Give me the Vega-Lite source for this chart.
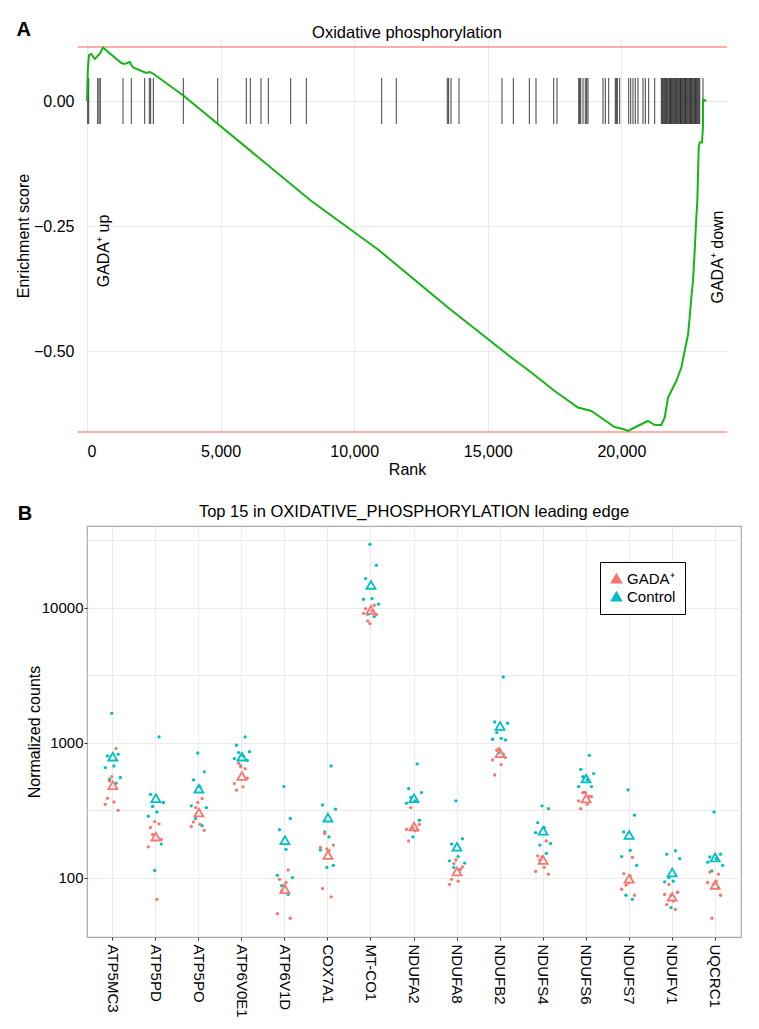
{
  "$schema": "https://vega.github.io/schema/vega-lite/v6.json",
  "background": "white",
  "padding": {"left": 15, "top": 19, "right": 5, "bottom": 5},
  "config": {
    "font": "Liberation Sans",
    "view": {"stroke": null},
    "axis": {"labelColor": "#000", "titleColor": "#000", "titleFontWeight": "normal", "gridColor": "#ebebeb", "labelFontSize": 16, "titleFontSize": 16},
    "title": {"fontWeight": "normal", "fontSize": 16.5, "color": "#000"}
  },
  "datasets": {
    "curve": [
      {"i":1,"rank":0,"es":0},{"i":2,"rank":30,"es":0.062},{"i":3,"rank":75,"es":0.092},{"i":4,"rank":161,"es":0.094},{"i":5,"rank":288,"es":0.084},{"i":6,"rank":412,"es":0.091},{"i":7,"rank":475,"es":0.094},{"i":8,"rank":599,"es":0.107},{"i":9,"rank":1284,"es":0.076},{"i":10,"rank":1411,"es":0.074},{"i":11,"rank":1598,"es":0.078},{"i":12,"rank":1722,"es":0.067},{"i":13,"rank":2219,"es":0.056},{"i":14,"rank":2347,"es":0.058},{"i":15,"rank":2470,"es":0.055},{"i":16,"rank":3604,"es":0.011},{"i":17,"rank":8395,"es":-0.2},{"i":18,"rank":10891,"es":-0.297},{"i":19,"rank":13510,"es":-0.413},{"i":20,"rank":15880,"es":-0.513},{"i":21,"rank":16629,"es":-0.543},{"i":22,"rank":17503,"es":-0.58},{"i":23,"rank":18376,"es":-0.613},{"i":24,"rank":18874,"es":-0.62},{"i":25,"rank":19499,"es":-0.643},{"i":26,"rank":19748,"es":-0.652},{"i":27,"rank":20123,"es":-0.657},{"i":28,"rank":20247,"es":-0.66},{"i":29,"rank":20497,"es":-0.653},{"i":30,"rank":20871,"es":-0.643},{"i":31,"rank":20995,"es":-0.64},{"i":32,"rank":21246,"es":-0.648},{"i":33,"rank":21494,"es":-0.648},{"i":34,"rank":21621,"es":-0.633},{"i":35,"rank":21744,"es":-0.593},{"i":36,"rank":21867,"es":-0.58},{"i":37,"rank":22055,"es":-0.56},{"i":38,"rank":22242,"es":-0.533},{"i":39,"rank":22368,"es":-0.5},{"i":40,"rank":22493,"es":-0.467},{"i":41,"rank":22555,"es":-0.433},{"i":42,"rank":22617,"es":-0.393},{"i":43,"rank":22680,"es":-0.36},{"i":44,"rank":22742,"es":-0.3},{"i":45,"rank":22804,"es":-0.233},{"i":46,"rank":22842,"es":-0.2},{"i":47,"rank":22893,"es":-0.093},{"i":48,"rank":22929,"es":-0.083},{"i":49,"rank":23016,"es":-0.083},{"i":50,"rank":23054,"es":-0.05},{"i":51,"rank":23054,"es":0.003},{"i":52,"rank":23177,"es":0}
    ],
    "hits": [
      {"rank":26},{"rank":64},{"rank":400},{"rank":449},{"rank":498},{"rank":1347},{"rank":1658},{"rank":2159},{"rank":2332},{"rank":2383},{"rank":2482},{"rank":3605},{"rank":4891},{"rank":5962},{"rank":6112},{"rank":6512},{"rank":6786},{"rank":7623},{"rank":8208},{"rank":11029},{"rank":11575},{"rank":13484},{"rank":13534},{"rank":13623},{"rank":13922},{"rank":15531},{"rank":15955},{"rank":16555},{"rank":16804},{"rank":17466},{"rank":17590},{"rank":18402},{"rank":18440},{"rank":18477},{"rank":18563},{"rank":18649},{"rank":18700},{"rank":18750},{"rank":19311},{"rank":19397},{"rank":19525},{"rank":19772},{"rank":19810},{"rank":19847},{"rank":19936},{"rank":20273},{"rank":20348},{"rank":20434},{"rank":20520},{"rank":20621},{"rank":20808},{"rank":20894},{"rank":21021},{"rank":21246},{"rank":21494},{"rank":21530},{"rank":21557},{"rank":21590},{"rank":21621},{"rank":21660},{"rank":21681},{"rank":21712},{"rank":21744},{"rank":21780},{"rank":21808},{"rank":21840},{"rank":21868},{"rank":21900},{"rank":21931},{"rank":21962},{"rank":21995},{"rank":22030},{"rank":22055},{"rank":22088},{"rank":22118},{"rank":22150},{"rank":22182},{"rank":22212},{"rank":22242},{"rank":22275},{"rank":22305},{"rank":22338},{"rank":22369},{"rank":22400},{"rank":22429},{"rank":22462},{"rank":22493},{"rank":22525},{"rank":22557},{"rank":22588},{"rank":22617},{"rank":22650},{"rank":22680},{"rank":22712},{"rank":22744},{"rank":22775},{"rank":22804},{"rank":22836},{"rank":22867},{"rank":22900},{"rank":22931},{"rank":23054}
    ],
    "means": [
      {"g":"ATP5MC3","grp":"Control","v":787},{"g":"ATP5MC3","grp":"GADA⁺","v":483},
      {"g":"ATP5PD","grp":"Control","v":387},{"g":"ATP5PD","grp":"GADA⁺","v":201},
      {"g":"ATP5PO","grp":"Control","v":456},{"g":"ATP5PO","grp":"GADA⁺","v":303},
      {"g":"ATP6V0E1","grp":"Control","v":787},{"g":"ATP6V0E1","grp":"GADA⁺","v":566},
      {"g":"ATP6V1D","grp":"Control","v":189},{"g":"ATP6V1D","grp":"GADA⁺","v":82},
      {"g":"COX7A1","grp":"Control","v":278},{"g":"COX7A1","grp":"GADA⁺","v":147},
      {"g":"MT-CO1","grp":"Control","v":14730},{"g":"MT-CO1","grp":"GADA⁺","v":9610},
      {"g":"NDUFA2","grp":"Control","v":387},{"g":"NDUFA2","grp":"GADA⁺","v":239},
      {"g":"NDUFA8","grp":"Control","v":169},{"g":"NDUFA8","grp":"GADA⁺","v":111},
      {"g":"NDUFB2","grp":"Control","v":1327},{"g":"NDUFB2","grp":"GADA⁺","v":834},
      {"g":"NDUFS4","grp":"Control","v":222},{"g":"NDUFS4","grp":"GADA⁺","v":135},
      {"g":"NDUFS6","grp":"Control","v":541},{"g":"NDUFS6","grp":"GADA⁺","v":385},
      {"g":"NDUFS7","grp":"Control","v":207},{"g":"NDUFS7","grp":"GADA⁺","v":98},
      {"g":"NDUFV1","grp":"Control","v":109},{"g":"NDUFV1","grp":"GADA⁺","v":72},
      {"g":"UQCRC1","grp":"Control","v":141},{"g":"UQCRC1","grp":"GADA⁺","v":88}
    ],
    "pts": [
      {"g":"ATP5MC3","grp":"Control","s":"4","v":1648},{"g":"ATP5MC3","grp":"Control","s":"7","v":820},{"g":"ATP5MC3","grp":"Control","s":"2","v":796},{"g":"ATP5MC3","grp":"Control","s":"5","v":671},{"g":"ATP5MC3","grp":"Control","s":"1","v":653},{"g":"ATP5MC3","grp":"Control","s":"8","v":551},{"g":"ATP5MC3","grp":"Control","s":"3","v":535},{"g":"ATP5MC3","grp":"Control","s":"6","v":500},
      {"g":"ATP5MC3","grp":"GADA⁺","s":"6","v":904},{"g":"ATP5MC3","grp":"GADA⁺","s":"2","v":387},{"g":"ATP5MC3","grp":"GADA⁺","s":"5","v":363},{"g":"ATP5MC3","grp":"GADA⁺","s":"1","v":349},{"g":"ATP5MC3","grp":"GADA⁺","s":"7","v":315},{"g":"ATP5MC3","grp":"GADA⁺","s":"3","v":520},{"g":"ATP5MC3","grp":"GADA⁺","s":"4","v":560},
      {"g":"ATP5PD","grp":"Control","s":"6","v":1102},{"g":"ATP5PD","grp":"Control","s":"2","v":414},{"g":"ATP5PD","grp":"Control","s":"8","v":360},{"g":"ATP5PD","grp":"Control","s":"3","v":336},{"g":"ATP5PD","grp":"Control","s":"5","v":306},{"g":"ATP5PD","grp":"Control","s":"1","v":285},{"g":"ATP5PD","grp":"Control","s":"7","v":177},{"g":"ATP5PD","grp":"Control","s":"4","v":113},
      {"g":"ATP5PD","grp":"GADA⁺","s":"3","v":209},{"g":"ATP5PD","grp":"GADA⁺","s":"7","v":192},{"g":"ATP5PD","grp":"GADA⁺","s":"1","v":169},{"g":"ATP5PD","grp":"GADA⁺","s":"5","v":69},{"g":"ATP5PD","grp":"GADA⁺","s":"2","v":235},{"g":"ATP5PD","grp":"GADA⁺","s":"6","v":250},{"g":"ATP5PD","grp":"GADA⁺","s":"4","v":260},
      {"g":"ATP5PO","grp":"Control","s":"4","v":837},{"g":"ATP5PO","grp":"Control","s":"7","v":607},{"g":"ATP5PO","grp":"Control","s":"2","v":529},{"g":"ATP5PO","grp":"Control","s":"5","v":472},{"g":"ATP5PO","grp":"Control","s":"1","v":340},{"g":"ATP5PO","grp":"Control","s":"8","v":330},{"g":"ATP5PO","grp":"Control","s":"3","v":274},{"g":"ATP5PO","grp":"Control","s":"6","v":242},
      {"g":"ATP5PO","grp":"GADA⁺","s":"6","v":385},{"g":"ATP5PO","grp":"GADA⁺","s":"2","v":258},{"g":"ATP5PO","grp":"GADA⁺","s":"5","v":248},{"g":"ATP5PO","grp":"GADA⁺","s":"1","v":239},{"g":"ATP5PO","grp":"GADA⁺","s":"7","v":224},{"g":"ATP5PO","grp":"GADA⁺","s":"3","v":330},{"g":"ATP5PO","grp":"GADA⁺","s":"4","v":360},
      {"g":"ATP6V0E1","grp":"Control","s":"6","v":1102},{"g":"ATP6V0E1","grp":"Control","s":"2","v":955},{"g":"ATP6V0E1","grp":"Control","s":"8","v":857},{"g":"ATP6V0E1","grp":"Control","s":"3","v":843},{"g":"ATP6V0E1","grp":"Control","s":"5","v":796},{"g":"ATP6V0E1","grp":"Control","s":"1","v":761},{"g":"ATP6V0E1","grp":"Control","s":"7","v":739},{"g":"ATP6V0E1","grp":"Control","s":"4","v":671},
      {"g":"ATP6V0E1","grp":"GADA⁺","s":"3","v":703},{"g":"ATP6V0E1","grp":"GADA⁺","s":"7","v":545},{"g":"ATP6V0E1","grp":"GADA⁺","s":"1","v":497},{"g":"ATP6V0E1","grp":"GADA⁺","s":"5","v":470},{"g":"ATP6V0E1","grp":"GADA⁺","s":"2","v":444},{"g":"ATP6V0E1","grp":"GADA⁺","s":"6","v":640},{"g":"ATP6V0E1","grp":"GADA⁺","s":"4","v":660},
      {"g":"ATP6V1D","grp":"Control","s":"4","v":472},{"g":"ATP6V1D","grp":"Control","s":"7","v":274},{"g":"ATP6V1D","grp":"Control","s":"2","v":226},{"g":"ATP6V1D","grp":"Control","s":"5","v":162},{"g":"ATP6V1D","grp":"Control","s":"1","v":104},{"g":"ATP6V1D","grp":"Control","s":"8","v":100},{"g":"ATP6V1D","grp":"Control","s":"3","v":87},{"g":"ATP6V1D","grp":"Control","s":"6","v":75},
      {"g":"ATP6V1D","grp":"GADA⁺","s":"6","v":114},{"g":"ATP6V1D","grp":"GADA⁺","s":"2","v":97},{"g":"ATP6V1D","grp":"GADA⁺","s":"5","v":92},{"g":"ATP6V1D","grp":"GADA⁺","s":"1","v":54},{"g":"ATP6V1D","grp":"GADA⁺","s":"7","v":50},{"g":"ATP6V1D","grp":"GADA⁺","s":"3","v":80},{"g":"ATP6V1D","grp":"GADA⁺","s":"4","v":87},
      {"g":"COX7A1","grp":"Control","s":"6","v":671},{"g":"COX7A1","grp":"Control","s":"2","v":345},{"g":"COX7A1","grp":"Control","s":"8","v":321},{"g":"COX7A1","grp":"Control","s":"3","v":218},{"g":"COX7A1","grp":"Control","s":"5","v":200},{"g":"COX7A1","grp":"Control","s":"1","v":160},{"g":"COX7A1","grp":"Control","s":"7","v":123},{"g":"COX7A1","grp":"Control","s":"4","v":119},
      {"g":"COX7A1","grp":"GADA⁺","s":"3","v":212},{"g":"COX7A1","grp":"GADA⁺","s":"7","v":174},{"g":"COX7A1","grp":"GADA⁺","s":"1","v":167},{"g":"COX7A1","grp":"GADA⁺","s":"5","v":158},{"g":"COX7A1","grp":"GADA⁺","s":"2","v":83},{"g":"COX7A1","grp":"GADA⁺","s":"6","v":72},{"g":"COX7A1","grp":"GADA⁺","s":"4","v":163},
      {"g":"MT-CO1","grp":"Control","s":"4","v":29400},{"g":"MT-CO1","grp":"Control","s":"7","v":20600},{"g":"MT-CO1","grp":"Control","s":"2","v":16400},{"g":"MT-CO1","grp":"Control","s":"5","v":11660},{"g":"MT-CO1","grp":"Control","s":"1","v":11530},{"g":"MT-CO1","grp":"Control","s":"8","v":10590},{"g":"MT-CO1","grp":"Control","s":"3","v":8930},{"g":"MT-CO1","grp":"Control","s":"6","v":8580},
      {"g":"MT-CO1","grp":"GADA⁺","s":"6","v":10400},{"g":"MT-CO1","grp":"GADA⁺","s":"2","v":9830},{"g":"MT-CO1","grp":"GADA⁺","s":"5","v":9450},{"g":"MT-CO1","grp":"GADA⁺","s":"1","v":9070},{"g":"MT-CO1","grp":"GADA⁺","s":"7","v":8900},{"g":"MT-CO1","grp":"GADA⁺","s":"3","v":7960},{"g":"MT-CO1","grp":"GADA⁺","s":"4","v":7610},
      {"g":"NDUFA2","grp":"Control","s":"6","v":695},{"g":"NDUFA2","grp":"Control","s":"2","v":456},{"g":"NDUFA2","grp":"Control","s":"8","v":426},{"g":"NDUFA2","grp":"Control","s":"3","v":392},{"g":"NDUFA2","grp":"Control","s":"5","v":370},{"g":"NDUFA2","grp":"Control","s":"1","v":356},{"g":"NDUFA2","grp":"Control","s":"7","v":266},{"g":"NDUFA2","grp":"Control","s":"4","v":200},
      {"g":"NDUFA2","grp":"GADA⁺","s":"3","v":330},{"g":"NDUFA2","grp":"GADA⁺","s":"7","v":248},{"g":"NDUFA2","grp":"GADA⁺","s":"1","v":228},{"g":"NDUFA2","grp":"GADA⁺","s":"5","v":222},{"g":"NDUFA2","grp":"GADA⁺","s":"2","v":187},{"g":"NDUFA2","grp":"GADA⁺","s":"6","v":225},{"g":"NDUFA2","grp":"GADA⁺","s":"4","v":233},
      {"g":"NDUFA8","grp":"Control","s":"4","v":370},{"g":"NDUFA8","grp":"Control","s":"7","v":194},{"g":"NDUFA8","grp":"Control","s":"2","v":177},{"g":"NDUFA8","grp":"Control","s":"5","v":143},{"g":"NDUFA8","grp":"Control","s":"1","v":133},{"g":"NDUFA8","grp":"Control","s":"8","v":128},{"g":"NDUFA8","grp":"Control","s":"3","v":119},{"g":"NDUFA8","grp":"Control","s":"6","v":115},
      {"g":"NDUFA8","grp":"GADA⁺","s":"6","v":115},{"g":"NDUFA8","grp":"GADA⁺","s":"2","v":97},{"g":"NDUFA8","grp":"GADA⁺","s":"5","v":94},{"g":"NDUFA8","grp":"GADA⁺","s":"1","v":89},{"g":"NDUFA8","grp":"GADA⁺","s":"7","v":120},{"g":"NDUFA8","grp":"GADA⁺","s":"3","v":127},{"g":"NDUFA8","grp":"GADA⁺","s":"4","v":135},
      {"g":"NDUFB2","grp":"Control","s":"6","v":3060},{"g":"NDUFB2","grp":"Control","s":"2","v":1421},{"g":"NDUFB2","grp":"Control","s":"8","v":1391},{"g":"NDUFB2","grp":"Control","s":"3","v":1186},{"g":"NDUFB2","grp":"Control","s":"5","v":1076},{"g":"NDUFB2","grp":"Control","s":"1","v":1059},{"g":"NDUFB2","grp":"Control","s":"7","v":1047},{"g":"NDUFB2","grp":"Control","s":"4","v":843},
      {"g":"NDUFB2","grp":"GADA⁺","s":"3","v":877},{"g":"NDUFB2","grp":"GADA⁺","s":"7","v":774},{"g":"NDUFB2","grp":"GADA⁺","s":"1","v":744},{"g":"NDUFB2","grp":"GADA⁺","s":"5","v":687},{"g":"NDUFB2","grp":"GADA⁺","s":"2","v":575},{"g":"NDUFB2","grp":"GADA⁺","s":"6","v":820},{"g":"NDUFB2","grp":"GADA⁺","s":"4","v":900},
      {"g":"NDUFS4","grp":"Control","s":"4","v":340},{"g":"NDUFS4","grp":"Control","s":"7","v":324},{"g":"NDUFS4","grp":"Control","s":"2","v":255},{"g":"NDUFS4","grp":"Control","s":"5","v":234},{"g":"NDUFS4","grp":"Control","s":"1","v":215},{"g":"NDUFS4","grp":"Control","s":"8","v":179},{"g":"NDUFS4","grp":"Control","s":"3","v":174},{"g":"NDUFS4","grp":"Control","s":"6","v":151},
      {"g":"NDUFS4","grp":"GADA⁺","s":"6","v":187},{"g":"NDUFS4","grp":"GADA⁺","s":"2","v":145},{"g":"NDUFS4","grp":"GADA⁺","s":"5","v":119},{"g":"NDUFS4","grp":"GADA⁺","s":"1","v":111},{"g":"NDUFS4","grp":"GADA⁺","s":"7","v":106},{"g":"NDUFS4","grp":"GADA⁺","s":"3","v":135},{"g":"NDUFS4","grp":"GADA⁺","s":"4","v":142},
      {"g":"NDUFS6","grp":"Control","s":"6","v":805},{"g":"NDUFS6","grp":"Control","s":"2","v":634},{"g":"NDUFS6","grp":"Control","s":"8","v":589},{"g":"NDUFS6","grp":"Control","s":"3","v":559},{"g":"NDUFS6","grp":"Control","s":"5","v":529},{"g":"NDUFS6","grp":"Control","s":"1","v":472},{"g":"NDUFS6","grp":"Control","s":"7","v":472},{"g":"NDUFS6","grp":"Control","s":"4","v":426},
      {"g":"NDUFS6","grp":"GADA⁺","s":"3","v":426},{"g":"NDUFS6","grp":"GADA⁺","s":"7","v":398},{"g":"NDUFS6","grp":"GADA⁺","s":"1","v":370},{"g":"NDUFS6","grp":"GADA⁺","s":"5","v":349},{"g":"NDUFS6","grp":"GADA⁺","s":"2","v":324},{"g":"NDUFS6","grp":"GADA⁺","s":"6","v":400},{"g":"NDUFS6","grp":"GADA⁺","s":"4","v":428},
      {"g":"NDUFS7","grp":"Control","s":"4","v":446},{"g":"NDUFS7","grp":"Control","s":"7","v":290},{"g":"NDUFS7","grp":"Control","s":"2","v":218},{"g":"NDUFS7","grp":"Control","s":"5","v":159},{"g":"NDUFS7","grp":"Control","s":"1","v":143},{"g":"NDUFS7","grp":"Control","s":"8","v":123},{"g":"NDUFS7","grp":"Control","s":"3","v":74},{"g":"NDUFS7","grp":"Control","s":"6","v":69},
      {"g":"NDUFS7","grp":"GADA⁺","s":"6","v":141},{"g":"NDUFS7","grp":"GADA⁺","s":"2","v":107},{"g":"NDUFS7","grp":"GADA⁺","s":"5","v":103},{"g":"NDUFS7","grp":"GADA⁺","s":"1","v":82},{"g":"NDUFS7","grp":"GADA⁺","s":"7","v":74},{"g":"NDUFS7","grp":"GADA⁺","s":"3","v":88},{"g":"NDUFS7","grp":"GADA⁺","s":"4","v":91},
      {"g":"NDUFV1","grp":"Control","s":"6","v":158},{"g":"NDUFV1","grp":"Control","s":"2","v":149},{"g":"NDUFV1","grp":"Control","s":"8","v":138},{"g":"NDUFV1","grp":"Control","s":"3","v":100},{"g":"NDUFV1","grp":"Control","s":"5","v":94},{"g":"NDUFV1","grp":"Control","s":"1","v":93},{"g":"NDUFV1","grp":"Control","s":"7","v":78},{"g":"NDUFV1","grp":"Control","s":"4","v":60},
      {"g":"NDUFV1","grp":"GADA⁺","s":"3","v":89},{"g":"NDUFV1","grp":"GADA⁺","s":"7","v":78},{"g":"NDUFV1","grp":"GADA⁺","s":"1","v":75},{"g":"NDUFV1","grp":"GADA⁺","s":"5","v":67},{"g":"NDUFV1","grp":"GADA⁺","s":"2","v":63},{"g":"NDUFV1","grp":"GADA⁺","s":"6","v":58},{"g":"NDUFV1","grp":"GADA⁺","s":"4","v":74},
      {"g":"UQCRC1","grp":"Control","s":"4","v":306},{"g":"UQCRC1","grp":"Control","s":"7","v":149},{"g":"UQCRC1","grp":"Control","s":"2","v":142},{"g":"UQCRC1","grp":"Control","s":"5","v":138},{"g":"UQCRC1","grp":"Control","s":"1","v":130},{"g":"UQCRC1","grp":"Control","s":"8","v":123},{"g":"UQCRC1","grp":"Control","s":"3","v":112},{"g":"UQCRC1","grp":"Control","s":"6","v":84},
      {"g":"UQCRC1","grp":"GADA⁺","s":"6","v":106},{"g":"UQCRC1","grp":"GADA⁺","s":"2","v":110},{"g":"UQCRC1","grp":"GADA⁺","s":"5","v":94},{"g":"UQCRC1","grp":"GADA⁺","s":"1","v":92},{"g":"UQCRC1","grp":"GADA⁺","s":"7","v":74},{"g":"UQCRC1","grp":"GADA⁺","s":"3","v":50},{"g":"UQCRC1","grp":"GADA⁺","s":"4","v":90}
    ]
  },
  "concat": [
    {
      "title": {"text": "A", "anchor": "start", "frame": "bounds", "fontSize": 20, "fontWeight": "bold", "offset": -15, "dx": 1},
      "vconcat": [
        {
          "title": {"text": "Oxidative phosphorylation", "anchor": "middle", "frame": "group", "offset": -3},
          "width": 640,
          "height": 395,
          "layer": [
            {
              "data": {"values": [{"es": 0.108}, {"es": -0.662}]},
              "mark": {"type": "rule", "color": "#ff5c5c", "strokeWidth": 1},
              "encoding": {
                "y": {"field": "es", "type": "quantitative", "title": "Enrichment score",
                  "scale": {"domain": [-0.664, 0.126], "nice": false, "zero": false},
                  "axis": {"values": [0, -0.25, -0.5], "format": ".2f", "grid": true, "domain": false, "ticks": false, "labelPadding": 13, "titlePadding": 2}},
                "x": {"datum": -337, "type": "quantitative", "title": "Rank"},
                "x2": {"datum": 23952}
              }
            },
            {
              "data": {"name": "hits"},
              "mark": {"type": "rule", "color": "#000", "strokeWidth": 1, "opacity": 0.75},
              "encoding": {
                "x": {"field": "rank", "type": "quantitative", "title": "Rank",
                  "scale": {"domain": [0, 23952], "nice": false, "zero": false},
                  "axis": {"values": [0, 5000, 10000, 15000, 20000], "format": ",.0f", "grid": true, "domain": false, "ticks": false, "labelPadding": 10, "titlePadding": 2}},
                "y": {"datum": -0.046, "type": "quantitative", "title": "Enrichment score"},
                "y2": {"datum": 0.046}
              }
            },
            {
              "mark": {"type": "rule", "color": "#222", "strokeWidth": 1},
              "encoding": {
                "y": {"datum": 0, "type": "quantitative", "title": "Enrichment score"},
                "x": {"datum": -337, "type": "quantitative", "title": "Rank"},
                "x2": {"datum": 23952}
              }
            },
            {
              "mark": {"type": "rule", "color": "#000", "strokeWidth": 1.2},
              "encoding": {"x": {"datum": 0, "type": "quantitative", "title": "Rank"}}
            },
            {
              "data": {"values": [{"rank": 636, "es": -0.30, "label": "GADA⁺ up"}, {"rank": 23615, "es": -0.312, "label": "GADA⁺ down"}]},
              "mark": {"type": "text", "angle": 270, "fontSize": 16, "align": "center", "baseline": "middle", "color": "#000"},
              "encoding": {
                "x": {"field": "rank", "type": "quantitative", "title": "Rank"},
                "y": {"field": "es", "type": "quantitative", "title": "Enrichment score"},
                "text": {"field": "label"}
              }
            },
            {
              "data": {"name": "curve"},
              "mark": {"type": "line", "color": "#16b416", "strokeWidth": 2},
              "encoding": {
                "x": {"field": "rank", "type": "quantitative", "title": "Rank"},
                "y": {"field": "es", "type": "quantitative", "title": "Enrichment score"},
                "order": {"field": "i", "type": "quantitative"}
              }
            }
          ]
        }
      ]
    },
    {
      "title": {"text": "B", "anchor": "start", "frame": "bounds", "fontSize": 20, "fontWeight": "bold", "offset": -21, "dx": -8},
      "resolve": {"legend": {"color": "independent"}},
      "vconcat": [
        {
          "title": {"text": "Top 15 in OXIDATIVE_PHOSPHORYLATION leading edge", "anchor": "middle", "frame": "group", "offset": 6},
          "width": 654,
          "height": 411,
          "view": {"stroke": "#aaaaaa", "strokeWidth": 1.2},
          "layer": [
            {
              "data": {"name": "pts"},
              "mark": {"type": "point", "shape": "circle", "filled": true, "size": 11, "opacity": 1},
              "encoding": {
                "x": {"field": "g", "type": "nominal", "sort": null, "title": null,
                  "scale": {"type": "band", "paddingInner": 0.6, "paddingOuter": 0.4},
                  "axis": {"labelAngle": 90, "labelFontSize": 15, "grid": true, "domain": false, "ticks": true, "tickSize": 3, "tickColor": "#333", "labelPadding": 4}},
                "xOffset": {"field": "s", "type": "nominal"},
                "y": {"field": "v", "type": "quantitative", "title": "Normalized counts",
                  "scale": {"type": "log", "domain": [36.3, 40200], "nice": false},
                  "axis": {"values": [31.6227766, 100, 316.227766, 1000, 3162.27766, 10000, 31622.7766],
                    "labelExpr": "indexof([100, 1000, 10000], datum.value) >= 0 ? datum.value : ''",
                    "tickOpacity": {"condition": {"test": "indexof([100, 1000, 10000], datum.value) < 0", "value": 0}, "value": 1},
                    "labelFontSize": 15, "grid": true, "domain": false, "ticks": true, "tickSize": 3, "tickColor": "#333", "labelPadding": 1, "titlePadding": -1}},
                "color": {"field": "grp", "type": "nominal",
                  "scale": {"domain": ["GADA⁺", "Control"], "range": ["#F8766D", "#00BFC4"]},
                  "legend": {"orient": "none", "legendX": 513, "legendY": 36, "title": null, "symbolType": "triangle-up", "symbolSize": 100, "labelFontSize": 15, "labelColor": "#000", "strokeColor": "#000", "padding": 9, "fillColor": "#fff", "rowPadding": 2, "labelOffset": 3}}
              }
            },
            {
              "data": {"name": "means"},
              "mark": {"type": "point", "shape": "triangle-up", "filled": false, "size": 80, "strokeWidth": 1.8, "opacity": 1},
              "encoding": {
                "x": {"field": "g", "type": "nominal", "sort": null, "title": null},
                "y": {"field": "v", "type": "quantitative", "title": "Normalized counts"},
                "color": {"field": "grp", "type": "nominal", "legend": null}
              }
            }
          ]
        }
      ]
    }
  ],
  "resolve": {"legend": {"color": "independent"}},
  "columns": 1,
  "align": "none",
  "spacing": 25
}
